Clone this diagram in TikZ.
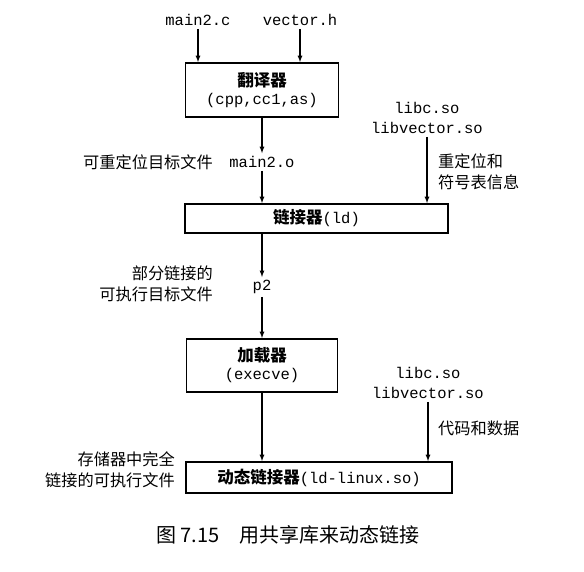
\documentclass[tikz,border=0pt]{standalone}
\usepackage{fontspec}
\setmonofont{Liberation Mono}
\newfontfamily\cjk{Noto Sans CJK SC}
\usetikzlibrary{positioning}

\begin{document}
\begin{tikzpicture}[x=1pt, y=-1pt,
    box/.style={rectangle, draw, line width=1.8pt, align=center, inner sep=2pt, font=\ttfamily\fontsize{15.5}{18}\selectfont},
    file/.style={font=\ttfamily\fontsize{15.5}{20}\selectfont, inner sep=3pt, align=center},
    note/.style={font=\cjk\fontsize{16.2}{21.5}\selectfont, inner sep=0pt},
    flow/.style={-latex, line width=1.2pt}]
    \useasboundingbox (0,0) rectangle (584,571);
    % inputs and translator
    \node(main2c) [file] at (198,20) {main2.c};
    \node(vectorh) [file] at (300,20) {vector.h};
    \node(trans) [box, minimum width=153pt, minimum height=54pt] at (262,90) {{\cjk\bfseries\fontsize{16.5}{18}\selectfont 翻译器}\\(cpp,cc1,as)};
    \node(main2o) [file] at (262,162) {main2.o};
    \node(relocobj) [note, anchor=east] at (213,162) {可重定位目标文件};
    \node(libsa) [file] at (427,118) {libc.so\\libvector.so};
    \node(symtab) [note, anchor=west, align=left] at (438,172) {重定位和\\符号表信息};
    % linker
    \node(linker) [box, minimum width=263pt, minimum height=29pt] at (316.5,218.5) {{\cjk\bfseries\fontsize{16.5}{18}\selectfont 链接器}(ld)};
    \node(p2) [file] at (262,287) {p2};
    \node(partial) [note, anchor=east, align=right] at (213,284) {部分链接的\\可执行目标文件};
    % loader
    \node(loader) [box, minimum width=151pt, minimum height=53pt] at (262,365.5) {{\cjk\bfseries\fontsize{16.5}{18}\selectfont 加载器}\\(execve)};
    \node(libsb) [file] at (428,383) {libc.so\\libvector.so};
    \node(codedata) [note, anchor=west] at (438,428) {代码和数据};
    \node(dynlinker) [box, minimum width=266pt, minimum height=31pt] at (319,477.5) {{\cjk\bfseries\fontsize{16.5}{18}\selectfont 动态链接器}(ld-linux.so)};
    \node(fullexec) [note, anchor=east, align=right] at (175,470) {存储器中完全\\链接的可执行文件};
    \node(caption) [font=\cjk\fontsize{20}{24}\selectfont] at (288,535) {图 7.15\quad 用共享库来动态链接};

    \draw[flow] (main2c) -- (main2c |- trans.north);
    \draw[flow] (vectorh) -- (vectorh |- trans.north);
    \draw[flow] (trans.south) -- (main2o.north);
    \draw[flow] (main2o.south) -- (main2o |- linker.north);
    \draw[flow] (libsa.south) -- (libsa |- linker.north);
    \draw[flow] (main2o |- linker.south) -- (p2.north);
    \draw[flow] (p2.south) -- (p2 |- loader.north);
    \draw[flow] (loader.south) -- (loader |- dynlinker.north);
    \draw[flow] (libsb.south) -- (libsb |- dynlinker.north);
\end{tikzpicture}
\end{document}
